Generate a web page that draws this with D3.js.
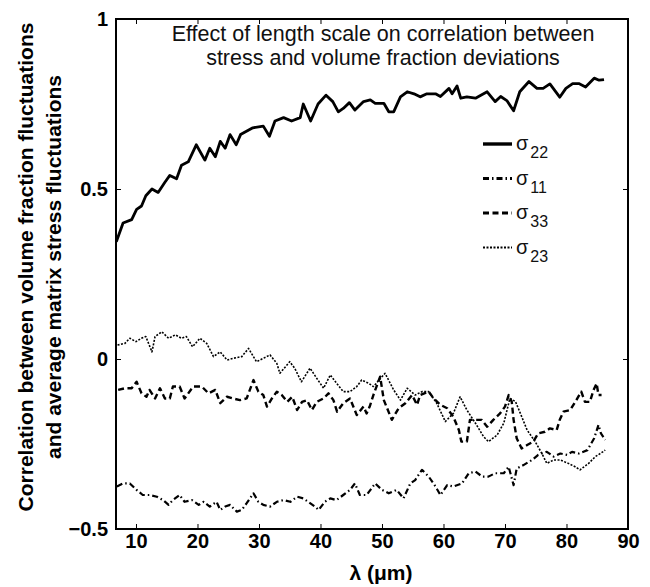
<!DOCTYPE html>
<html>
<head>
<meta charset="utf-8">
<script src="https://cdn.jsdelivr.net/npm/d3@7/dist/d3.min.js"></script>
<style>
  body { margin: 0; background: #fff; }
  svg { font-family: "Liberation Sans", Arial, Helvetica, sans-serif; }
</style>
</head>
<body>
<div id="chart"></div>
<script>
// values: [lambda (um), correlation]
const sigma22 = [[6.8,0.345],[7.9,0.40],[9.3,0.41],[10.1,0.44],[10.9,0.45],[11.6,0.48],[12.6,0.50],[13.6,0.49],
  [14.7,0.52],[15.5,0.54],[16.6,0.53],[17.4,0.57],[18.5,0.58],[19.8,0.63],[21.2,0.585],[22.0,0.62],[22.9,0.595],
  [23.7,0.64],[24.5,0.62],[25.3,0.66],[26.3,0.63],[27.0,0.66],[29.0,0.68],[30.7,0.685],[31.7,0.655],[32.6,0.70],
  [34.0,0.71],[35.3,0.70],[36.7,0.71],[37.2,0.75],[38.4,0.70],[39.6,0.75],[40.9,0.776],[42.0,0.757],[42.9,0.727],
  [43.7,0.737],[44.7,0.754],[45.6,0.732],[47.0,0.757],[48.1,0.762],[48.9,0.752],[50.3,0.752],[51.1,0.727],
  [51.9,0.727],[53.0,0.771],[54.1,0.786],[55.2,0.78],[56.2,0.771],[57.3,0.78],[58.7,0.78],[59.5,0.772],[60.9,0.796],
  [61.4,0.78],[62.2,0.803],[62.8,0.767],[63.8,0.771],[65.2,0.767],[67.1,0.786],[68.4,0.757],[69.3,0.772],[70.3,0.76],
  [71.4,0.73],[72.4,0.786],[73.9,0.816],[75.2,0.796],[76.2,0.796],[77.3,0.809],[78.9,0.77],[79.9,0.796],[81.0,0.81],
  [82.0,0.81],[83.1,0.80],[84.5,0.826],[85.3,0.82],[86.1,0.822]];

const sigma11 = [[6.9,-0.375],[7.9,-0.366],[9.0,-0.366],[10.1,-0.385],[11.1,-0.40],[12.2,-0.40],[13.4,-0.405],
  [14.4,-0.415],[15.3,-0.429],[16.0,-0.415],[17.1,-0.40],[17.9,-0.42],[19.1,-0.415],[20.2,-0.429],[21.0,-0.42],
  [22.0,-0.434],[23.1,-0.42],[23.7,-0.444],[24.5,-0.434],[25.3,-0.429],[26.4,-0.449],[27.2,-0.444],[28.0,-0.424],
  [29.1,-0.395],[29.9,-0.42],[30.7,-0.429],[31.8,-0.434],[32.9,-0.42],[34.0,-0.415],[35.1,-0.42],[36.2,-0.405],
  [37.2,-0.41],[38.3,-0.424],[39.1,-0.434],[39.7,-0.444],[40.7,-0.42],[41.6,-0.41],[42.6,-0.415],[43.7,-0.40],
  [44.8,-0.385],[45.6,-0.366],[46.4,-0.40],[47.5,-0.40],[48.9,-0.366],[50.0,-0.385],[51.1,-0.395],[52.4,-0.385],
  [53.5,-0.41],[54.6,-0.366],[55.4,-0.356],[56.5,-0.326],[57.6,-0.346],[58.7,-0.375],[59.5,-0.40],[60.6,-0.371],
  [61.6,-0.375],[63.0,-0.366],[64.1,-0.336],[65.2,-0.331],[66.3,-0.346],[67.3,-0.346],[68.4,-0.336],[69.8,-0.336],
  [70.6,-0.317],[71.4,-0.371],[71.9,-0.322],[73.0,-0.312],[74.4,-0.297],[75.4,-0.282],[76.8,-0.273],[77.9,-0.287],
  [79.0,-0.278],[80.1,-0.282],[80.9,-0.273],[82.0,-0.278],[83.4,-0.268],[84.5,-0.233],[85.2,-0.194],[85.6,-0.219],
  [86.3,-0.238]];

const sigma33 = [[7.1,-0.091],[8.2,-0.086],[9.3,-0.086],[10.1,-0.067],[10.9,-0.101],[11.7,-0.111],[12.2,-0.091],
  [13.1,-0.116],[13.9,-0.086],[14.7,-0.116],[15.5,-0.116],[16.0,-0.081],[17.1,-0.081],[17.9,-0.116],[19.3,-0.081],
  [20.7,-0.081],[21.8,-0.101],[22.9,-0.091],[23.7,-0.13],[24.8,-0.111],[25.8,-0.116],[26.9,-0.121],[28.0,-0.116],
  [29.1,-0.062],[29.9,-0.096],[30.7,-0.106],[31.3,-0.14],[32.1,-0.116],[32.9,-0.096],[33.7,-0.106],[34.6,-0.126],
  [35.4,-0.111],[36.2,-0.15],[37.0,-0.126],[37.8,-0.121],[38.6,-0.15],[39.4,-0.126],[40.5,-0.116],[41.3,-0.101],
  [42.1,-0.121],[42.7,-0.155],[43.7,-0.13],[44.8,-0.116],[45.9,-0.165],[47.0,-0.14],[47.5,-0.16],[48.0,-0.14],
  [48.6,-0.106],[49.7,-0.052],[50.3,-0.121],[51.6,-0.179],[52.7,-0.145],[53.8,-0.13],[54.9,-0.106],[55.7,-0.135],
  [56.2,-0.106],[57.6,-0.096],[58.4,-0.116],[59.5,-0.135],[60.6,-0.145],[61.6,-0.17],[62.5,-0.209],[62.9,-0.243],
  [63.8,-0.243],[64.3,-0.179],[65.2,-0.179],[66.2,-0.179],[67.1,-0.199],[68.1,-0.179],[69.2,-0.16],[70.0,-0.14],
  [70.6,-0.106],[71.1,-0.126],[71.4,-0.179],[71.9,-0.233],[72.7,-0.263],[73.6,-0.253],[74.6,-0.243],[75.4,-0.219],
  [76.5,-0.214],[77.3,-0.204],[78.4,-0.209],[78.9,-0.179],[79.5,-0.155],[80.6,-0.15],[81.6,-0.121],[82.4,-0.096],
  [83.0,-0.126],[83.8,-0.126],[84.4,-0.091],[84.9,-0.072],[85.2,-0.106],[85.7,-0.106]];

const sigma23 = [[7.0,0.041],[8.2,0.046],[9.0,0.061],[10.0,0.051],[10.9,0.061],[11.6,0.066],[12.6,0.021],
  [13.1,0.066],[14.2,0.08],[15.3,0.061],[16.4,0.071],[17.4,0.061],[18.2,0.066],[19.2,0.036],[20.4,0.061],
  [21.5,0.046],[22.6,0.007],[23.7,0.021],[24.8,-0.003],[25.8,0.002],[27.2,0.007],[28.3,0.031],[29.6,-0.008],
  [30.7,0.002],[31.8,0.012],[32.9,-0.013],[33.4,-0.042],[35.0,-0.008],[35.8,-0.027],[36.9,-0.067],[38.3,-0.027],
  [39.4,-0.057],[40.5,-0.086],[41.6,-0.047],[42.6,-0.071],[43.7,-0.096],[44.8,-0.096],[45.9,-0.081],[46.7,-0.062],
  [47.8,-0.071],[48.6,-0.081],[50.5,-0.042],[51.9,-0.091],[53.0,-0.121],[54.1,-0.086],[55.4,-0.106],[56.5,-0.096],
  [57.6,-0.096],[58.9,-0.13],[60.3,-0.184],[61.6,-0.16],[62.7,-0.111],[63.8,-0.15],[65.2,-0.189],[66.5,-0.228],
  [67.3,-0.243],[68.7,-0.224],[69.8,-0.189],[70.8,-0.116],[71.7,-0.125],[72.5,-0.16],[73.6,-0.209],[74.9,-0.243],
  [76.0,-0.278],[76.8,-0.307],[77.9,-0.297],[79.0,-0.297],[80.3,-0.307],[81.4,-0.317],[82.2,-0.326],[83.6,-0.307],
  [84.7,-0.287],[85.5,-0.278],[86.3,-0.268]];

const xTicks = [10, 20, 30, 40, 50, 60, 70, 80, 90];
const yTicks = [-0.5, 0, 0.5, 1];
const yTickLabels = ["\u22120.5", "0", "0.5", "1"];
const legendNames = ["22", "11", "33", "23"];
const titleLines = ["Effect of length scale on correlation between", "stress and volume fraction deviations"];
const yLabelLines = ["Correlation between volume fraction fluctuations", "and average matrix stress fluctuations"];

const W = 650, H = 587;
const margin = {top: 19, right: 22, bottom: 58, left: 116};

const svg = d3.select("#chart").append("svg")
  .attr("width", W)
  .attr("height", H);

const x = d3.scaleLinear().domain([6.75, 90]).range([margin.left, W - margin.right]);
const y = d3.scaleLinear().domain([-0.5, 1]).range([H - margin.bottom, margin.top]);

// series styling (matlab-like)
const series = [
  {name: legendNames[0], data: sigma22, width: 2.8, dash: null},
  {name: legendNames[1], data: sigma11, width: 2.2, dash: "6,3,1.5,3"},
  {name: legendNames[2], data: sigma33, width: 2.4, dash: "6,3.5"},
  {name: legendNames[3], data: sigma23, width: 1.6, dash: "2,1.5"}
];

const line = d3.line().x(d => x(d[0])).y(d => y(d[1]));

svg.append("g").selectAll("path")
  .data(series.slice().reverse())
  .enter().append("path")
  .attr("d", d => line(d.data))
  .attr("fill", "none")
  .attr("stroke", "#000")
  .attr("stroke-width", d => d.width)
  .attr("stroke-dasharray", d => d.dash)
  .attr("stroke-linejoin", "round");

// axes with inward ticks
const fontTick = 20;
const axBottom = svg.append("g")
  .attr("transform", `translate(0,${y(-0.5)})`)
  .call(d3.axisBottom(x).tickValues(xTicks).tickSize(-5).tickPadding(5));
const axTop = svg.append("g")
  .attr("transform", `translate(0,${y(1)})`)
  .call(d3.axisTop(x).tickValues(xTicks).tickSize(-5).tickFormat(""));
const axLeft = svg.append("g")
  .attr("transform", `translate(${x(6.75)},0)`)
  .call(d3.axisLeft(y).tickValues(yTicks).tickSize(-5).tickPadding(8)
    .tickFormat((d, i) => yTickLabels[i]));
const axRight = svg.append("g")
  .attr("transform", `translate(${x(90)},0)`)
  .call(d3.axisRight(y).tickValues(yTicks).tickSize(-5).tickFormat(""));

[axBottom, axTop, axLeft, axRight].forEach(g => {
  g.select(".domain").remove();
  g.selectAll(".tick line").attr("stroke", "#000").attr("stroke-width", 1);
  g.selectAll("text")
    .attr("font-family", "'Liberation Sans', Arial, sans-serif")
    .attr("font-size", fontTick)
    .attr("font-weight", "bold")
    .attr("fill", "#000");
});

// frame
svg.append("rect")
  .attr("x", x(6.75))
  .attr("y", y(1))
  .attr("width", x(90) - x(6.75))
  .attr("height", y(-0.5) - y(1))
  .attr("fill", "none")
  .attr("stroke", "#000")
  .attr("stroke-width", 2);

// title inside the plot
svg.append("g").selectAll("text")
  .data(titleLines)
  .enter().append("text")
  .attr("x", 383)
  .attr("y", (d, i) => 41 + i * 23.5)
  .attr("text-anchor", "middle")
  .attr("font-size", 21.5)
  .attr("fill", "#111")
  .text(d => d);

// axis labels
svg.append("text")
  .attr("x", 381)
  .attr("y", 580)
  .attr("text-anchor", "middle")
  .attr("font-size", 21)
  .attr("font-weight", "bold")
  .text("\u03bb (\u03bcm)");

svg.append("g").selectAll("text")
  .data(yLabelLines)
  .enter().append("text")
  .attr("transform", (d, i) => `translate(${33 + i * 28},267) rotate(-90)`)
  .attr("text-anchor", "middle")
  .attr("font-size", 21)
  .attr("font-weight", "bold")
  .text(d => d);

// legend
const legend = svg.append("g").attr("transform", "translate(483,144)");
const rows = legend.selectAll("g")
  .data(series)
  .enter().append("g")
  .attr("transform", (d, i) => `translate(0,${i * 34.5})`);

rows.append("line")
  .attr("x1", 0).attr("x2", 29)
  .attr("stroke", "#000")
  .attr("stroke-width", d => d.width + 0.6)
  .attr("stroke-dasharray", d => d.dash);

const lab = rows.append("text")
  .attr("x", 33)
  .attr("y", 6)
  .attr("font-size", 20)
  .attr("fill", "#111");
lab.append("tspan").text("\u03c3");
lab.append("tspan")
  .attr("font-size", 16)
  .attr("dx", 2)
  .attr("dy", 8)
  .text(d => d.name);
</script>
</body>
</html>
